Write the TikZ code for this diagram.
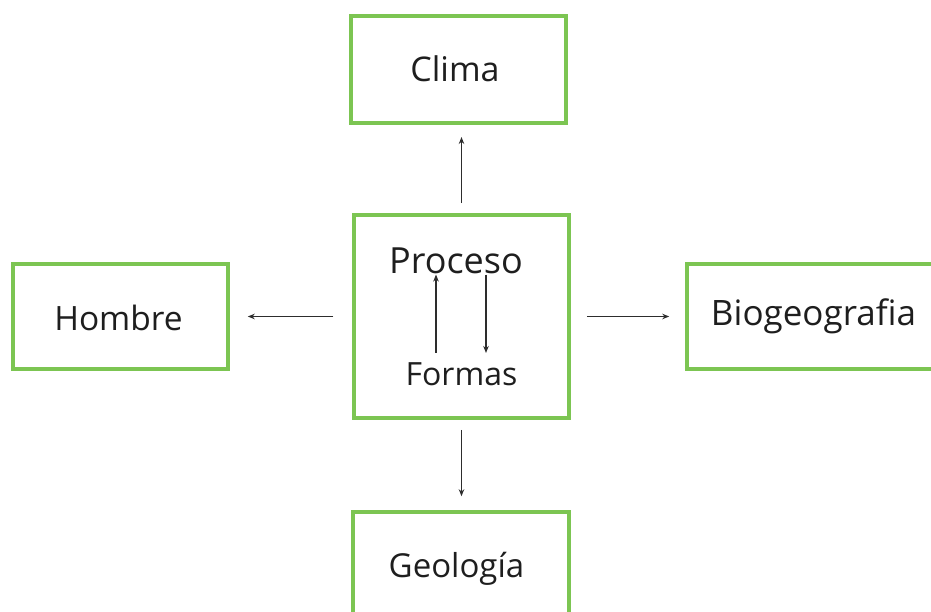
\documentclass[tikz,border=0pt]{standalone}
\usepackage{fontspec}
\setmainfont{Open Sans}
\usetikzlibrary{arrows.meta}
\definecolor{boxgreen}{RGB}{124,197,82}
\definecolor{arrowgray}{RGB}{45,45,45}
\definecolor{labeltext}{RGB}{30,30,30}
\begin{document}
\begin{tikzpicture}[x=1pt,y=-1pt,
  topicbox/.style={draw=boxgreen, line width=3.5pt, inner sep=0pt},
  label/.style={inner sep=0pt, anchor=base, text=labeltext},
  link/.style={draw=arrowgray, line width=1.6pt, -{Stealth[length=7pt,width=5.5pt]}}]
\useasboundingbox (0,0) rectangle (931,612);

% topic boxes
\node[topicbox, minimum width=215pt, minimum height=107pt] (clima)  at (458.5,69.75) {};
\node[topicbox, minimum width=215pt, minimum height=203pt] (proc)   at (461.5,316.5) {};
\node[topicbox, minimum width=215pt, minimum height=105pt] (hombre) at (120.5,316.5) {};
\node[topicbox, minimum width=260pt, minimum height=105pt] (bio)    at (817,316.5) {};
\node[topicbox, minimum width=216pt, minimum height=138pt] (geo)    at (461,581) {};

% labels
\node[label, font=\fontsize{34}{34}\selectfont] (climat) at (455,82) {Clima};
\node[label, font=\fontsize{36}{36}\selectfont] (proct) at (456,273) {Proceso};
\node[label, font=\fontsize{32}{32}\selectfont] (formas) at (461.5,385) {Formas};
\node[label, font=\fontsize{33.5}{33.5}\selectfont] (hombret) at (118.5,330) {Hombre};
\node[label, font=\fontsize{35}{35}\selectfont] (biot) at (813.5,325) {Biogeografia};
\node[label, font=\fontsize{33}{33}\selectfont] (geot) at (456.5,577) {Geología};

% connectors between boxes
\draw[link, shorten <=10pt, shorten >=12pt] (proc.north) -- (proc.north |- clima.south);
\draw[link, shorten <=10pt, shorten >=14pt] (proc.south) -- (proc.south |- geo.north);
\draw[link, shorten <=19pt, shorten >=18pt] (proc.west) -- (proc.west -| hombre.east);
\draw[link, shorten <=16pt, shorten >=16pt] (proc.east) -- (proc.east -| bio.west);

% cycle between Proceso and Formas
\draw[link, shorten <=9pt, shorten >=1pt] ([xshift=-25.5pt]formas.north) -- ([xshift=-25.5pt]formas.north |- proct.south);
\draw[link, shorten <=1pt, shorten >=9pt] ([xshift=24.5pt]formas.north |- proct.south) -- ([xshift=24.5pt]formas.north);
\end{tikzpicture}
\end{document}
